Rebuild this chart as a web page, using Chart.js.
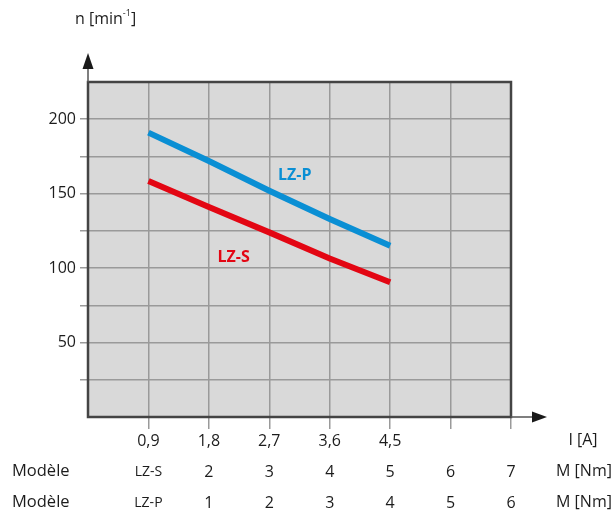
<!DOCTYPE html>
<html>
<head>
<meta charset="utf-8">
<title>n / I</title>
<script src="https://cdn.jsdelivr.net/npm/chart.js@4/dist/chart.umd.min.js"></script>
<style>
  html, body { margin: 0; padding: 0; background: #fff; }
  #wrap { width: 614px; height: 512px; }
</style>
</head>
<body>
<div id="wrap"><canvas id="chart" width="614" height="512"></canvas></div>
<script>
// courant I [A]
var currentA = [0.9, 1.8, 2.7, 3.6, 4.5];
// vitesse n [min-1]
var speedLZP = [191, 172, 152, 133, 115];
var speedLZS = [158.5, 141, 124, 106.5, 90.5];

var xTicks = [0, 0.9, 1.8, 2.7, 3.6, 4.5, 5.4, 6.3];
var xTickLabels = ["", "0,9", "1,8", "2,7", "3,6", "4,5", "", ""];
var yShownTicks = [50, 100, 150, 200];

// lignes sous l'axe : couple M [Nm] par modele
var torqueLZS = ["LZ-S", "2", "3", "4", "5", "6", "7"];
var torqueLZP = ["LZ-P", "1", "2", "3", "4", "5", "6"];
var torqueTicks = [0.9, 1.8, 2.7, 3.6, 4.5, 5.4, 6.3];

var labelLZP = { text: "LZ-P", x: 3.08, y: 162 };
var labelLZS = { text: "LZ-S", x: 2.17, y: 107 };

(function () {
  var FONT = "'Open Sans', 'Noto Sans', sans-serif";
  var INK = "#1c1c1c";
  var BLUE = "#0a8fd4";
  var RED = "#e30613";
  var GRID = "#9a9a9a";

  function toPoints(xs, ys) {
    return xs.map(function (x, i) {
      return { x: x, y: ys[i] };
    });
  }

  var framePlugin = {
    id: "frame",
    beforeDraw: function (chart) {
      var a = chart.chartArea;
      var ctx = chart.ctx;
      ctx.save();
      ctx.fillStyle = "#d9d9d9";
      ctx.fillRect(a.left, a.top, a.right - a.left, a.bottom - a.top);
      ctx.restore();
    },
    afterDraw: function (chart) {
      var a = chart.chartArea;
      var ctx = chart.ctx;
      var xs = chart.scales.x;
      var ys = chart.scales.y;
      ctx.save();

      // cadre
      ctx.strokeStyle = "#444444";
      ctx.lineWidth = 2.5;
      ctx.strokeRect(a.left, a.top, a.right - a.left, a.bottom - a.top);

      // fleches
      ctx.strokeStyle = "#555555";
      ctx.lineWidth = 1.5;
      ctx.beginPath();
      ctx.moveTo(a.left, a.top);
      ctx.lineTo(a.left, a.top - 16);
      ctx.moveTo(a.right, a.bottom);
      ctx.lineTo(a.right + 24, a.bottom);
      ctx.stroke();
      ctx.fillStyle = "#1a1a1a";
      ctx.beginPath();
      ctx.moveTo(a.left, a.top - 29);
      ctx.lineTo(a.left - 5.5, a.top - 13);
      ctx.lineTo(a.left + 5.5, a.top - 13);
      ctx.closePath();
      ctx.fill();
      ctx.beginPath();
      ctx.moveTo(a.right + 36, a.bottom);
      ctx.lineTo(a.right + 21, a.bottom - 5.5);
      ctx.lineTo(a.right + 21, a.bottom + 5.5);
      ctx.closePath();
      ctx.fill();

      // titre axe y
      ctx.fillStyle = INK;
      ctx.textBaseline = "alphabetic";
      ctx.textAlign = "left";
      ctx.font = "16px " + FONT;
      var tx = 75;
      var ty = 24;
      ctx.fillText("n [min", tx, ty);
      tx += ctx.measureText("n [min").width;
      ctx.font = "9px " + FONT;
      ctx.fillText("-1", tx, ty - 8);
      tx += ctx.measureText("-1").width;
      ctx.font = "16px " + FONT;
      ctx.fillText("]", tx, ty);

      // titre axe x
      ctx.textAlign = "center";
      ctx.textBaseline = "middle";
      ctx.fillText("I [A]", 583, 440);

      // lignes Modele
      var rows = [
        { y: 471, vals: torqueLZS },
        { y: 502, vals: torqueLZP },
      ];
      rows.forEach(function (row) {
        ctx.font = "16.5px " + FONT;
        ctx.textAlign = "left";
        ctx.fillText("Mod\u00e8le", 12, row.y);
        ctx.textAlign = "center";
        row.vals.forEach(function (v, i) {
          ctx.font = (i === 0 ? "14px " : "16px ") + FONT;
          ctx.fillText(v, xs.getPixelForValue(torqueTicks[i]), row.y + 1);
        });
        ctx.font = "16px " + FONT;
        ctx.fillText("M [Nm]", 584, row.y);
      });

      // etiquettes des courbes
      ctx.font = "bold 16px " + FONT;
      ctx.fillStyle = BLUE;
      ctx.fillText(labelLZP.text, xs.getPixelForValue(labelLZP.x), ys.getPixelForValue(labelLZP.y));
      ctx.fillStyle = RED;
      ctx.fillText(labelLZS.text, xs.getPixelForValue(labelLZS.x), ys.getPixelForValue(labelLZS.y));

      ctx.restore();
    },
  };

  new Chart(document.getElementById("chart"), {
    type: "scatter",
    data: {
      datasets: [
        {
          label: "LZ-P",
          data: toPoints(currentA, speedLZP),
          showLine: true,
          borderColor: BLUE,
          borderWidth: 6,
          pointRadius: 0,
          tension: 0,
        },
        {
          label: "LZ-S",
          data: toPoints(currentA, speedLZS),
          showLine: true,
          borderColor: RED,
          borderWidth: 6,
          pointRadius: 0,
          tension: 0,
        },
      ],
    },
    options: {
      responsive: false,
      animation: false,
      devicePixelRatio: 1,
      layout: { padding: { top: 82, right: 103, left: 0, bottom: 0 } },
      plugins: {
        legend: { display: false },
        tooltip: { enabled: false },
      },
      scales: {
        x: {
          type: "linear",
          min: 0,
          max: 6.3,
          afterBuildTicks: function (scale) {
            scale.ticks = xTicks.map(function (v) {
              return { value: v };
            });
          },
          afterFit: function (scale) {
            scale.height = 95;
          },
          border: { display: false },
          grid: {
            color: GRID,
            lineWidth: 1.5,
            drawTicks: true,
            tickLength: 12,
            tickColor: function (c) {
              return c.index === 0 ? "rgba(0,0,0,0)" : GRID;
            },
          },
          ticks: {
            autoSkip: false,
            maxRotation: 0,
            padding: 3,
            color: INK,
            font: { family: FONT, size: 16 },
            callback: function (v, i) {
              return xTickLabels[i];
            },
          },
        },
        y: {
          min: 0,
          max: 225,
          afterFit: function (scale) {
            scale.width = 88;
          },
          border: { display: false },
          grid: {
            color: GRID,
            lineWidth: 1.5,
            drawTicks: true,
            tickLength: 8,
            tickColor: function (c) {
              var v = c.tick ? c.tick.value : 0;
              return v === 0 || v === 225 ? "rgba(0,0,0,0)" : GRID;
            },
          },
          ticks: {
            stepSize: 25,
            padding: 4,
            color: INK,
            font: { family: FONT, size: 16 },
            callback: function (v) {
              return yShownTicks.indexOf(v) >= 0 ? String(v) : "";
            },
          },
        },
      },
    },
    plugins: [framePlugin],
  });
})();
</script>
</body>
</html>
